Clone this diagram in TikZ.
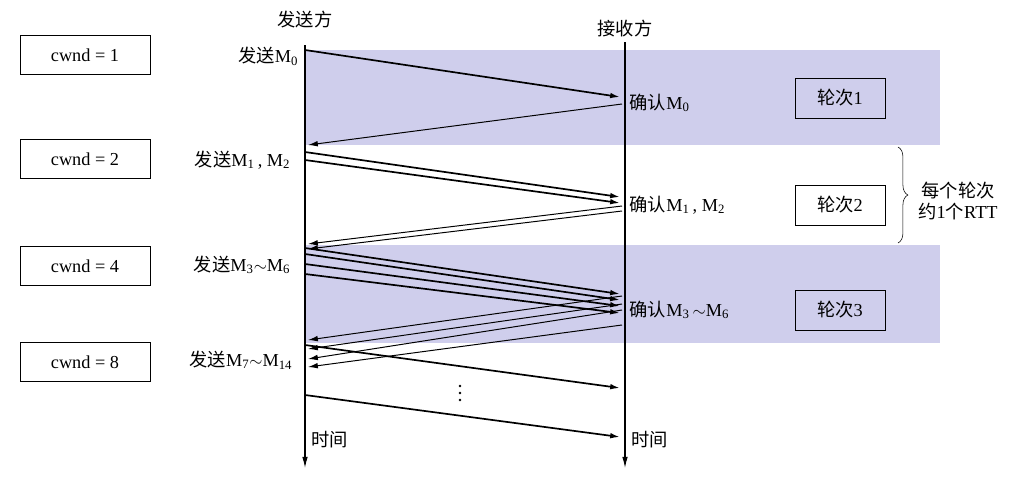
\documentclass[tikz,border=0pt]{standalone}
\usepackage{fontspec}
\setmainfont{Liberation Serif}
\newfontfamily\cjk{Noto Sans CJK SC}
\usetikzlibrary{arrows.meta,decorations.pathreplacing}
\definecolor{bandcol}{RGB}{207,206,236}
\newcommand{\zh}[1]{{\cjk #1}}
\tikzset{
  cwndbox/.style={draw, minimum width=3.25cm, minimum height=0.98cm, font=\fontsize{13}{15}\selectfont},
  roundbox/.style={draw, minimum width=2.25cm, minimum height=1cm, font=\fontsize{13}{15}\selectfont},
  lbl/.style={font=\fontsize{13}{15}\selectfont, inner sep=1pt},
  send/.style={line width=1.2pt, -{Latex[length=7pt,width=4pt]}},
  ack/.style={line width=0.7pt, -{Latex[length=7pt,width=4pt]}},
  dot/.style={circle, fill, inner sep=0.7pt},
}
\begin{document}
\begin{tikzpicture}[x=0.025cm, y=-0.025cm]
    \useasboundingbox (0, 0) rectangle (1016, 481);
    % shaded rounds
    \fill [bandcol] (305, 50) rectangle (940, 145);
    \fill [bandcol] (305, 245) rectangle (940, 343);

    % time lines
    \coordinate (s top) at (305, 45);
    \coordinate (s end) at (305, 468);
    \coordinate (r top) at (625, 42);
    \coordinate (r end) at (625, 468);
    \draw [line width=0.8pt, -{Latex[length=8pt,width=4pt]}] (s top) -- (s end);
    \draw [line width=0.8pt, -{Latex[length=8pt,width=4pt]}] (r top) -- (r end);
    \node [lbl] (sender) at (305, 20) {\zh{发送方}};
    \node [lbl] (receiver) at (625, 29) {\zh{接收方}};
    \node [lbl, right] (t1) at (310, 440) {\zh{时间}};
    \node [lbl, right] (t2) at (630, 440) {\zh{时间}};

    % windows
    \node [cwndbox] (w1) at (85, 55) {cwnd = 1};
    \node [cwndbox] (w2) at (85, 159) {cwnd = 2};
    \node [cwndbox] (w4) at (85, 266) {cwnd = 4};
    \node [cwndbox] (w8) at (85, 362) {cwnd = 8};

    % labels at the sender
    \node [lbl, left] (m0) at (300, 56) {\zh{发送}M\textsubscript{0}};
    \node [lbl, left] (m12) at (292, 160) {\zh{发送}M\textsubscript{1}\,, M\textsubscript{2}};
    \node [lbl, left] (m36) at (292, 265) {\zh{发送}M\textsubscript{3}$\sim$M\textsubscript{6}};
    \node [lbl, left] (m714) at (294, 360) {\zh{发送}M\textsubscript{7}$\sim$M\textsubscript{14}};

    % labels at the receiver
    \node [lbl, right] (a0) at (628, 103) {\zh{确认}M\textsubscript{0}};
    \node [lbl, right] (a12) at (628, 205) {\zh{确认}M\textsubscript{1}\,, M\textsubscript{2}};
    \node [lbl, right] (a36) at (628, 310) {\zh{确认}M\textsubscript{3}\,$\sim$M\textsubscript{6}};

    % rounds
    \node [roundbox] (r1) at (840, 98) {\zh{轮次}1};
    \node [roundbox] (r2) at (840, 205) {\zh{轮次}2};
    \node [roundbox] (r3) at (840, 310) {\zh{轮次}3};
    \draw [decorate, decoration={brace, amplitude=7pt}] (898, 147) -- (898, 243);
    \node [lbl, align=center] (rtt) at (958, 201) {\zh{每个轮次}\\\zh{约}1\zh{个}RTT};

    % segments
    \draw [send] (305, 50) -- (620, 97);
    \draw [ack] (622, 104) -- (308, 145);
    \foreach \a/\b in {152/197, 160/203}
      \draw [send] (305, \a) -- (620, \b);
    \foreach \a/\b in {206/244, 211/249}
      \draw [ack] (622, \a) -- (308, \b);
    \foreach \a/\b in {248/294, 254/300, 264/306, 274/313}
      \draw [send] (305, \a) -- (620, \b);
    \foreach \a/\b in {296/340, 304/349, 310/359, 325/367}
      \draw [ack] (622, \a) -- (308, \b);
    \draw [send] (305, 345) -- (620, 388);
    \draw [send] (305, 395) -- (620, 437);
    \foreach \y in {386, 393, 400}
      \node [dot] (dot\y) at (460, \y) {};
\end{tikzpicture}
\end{document}
